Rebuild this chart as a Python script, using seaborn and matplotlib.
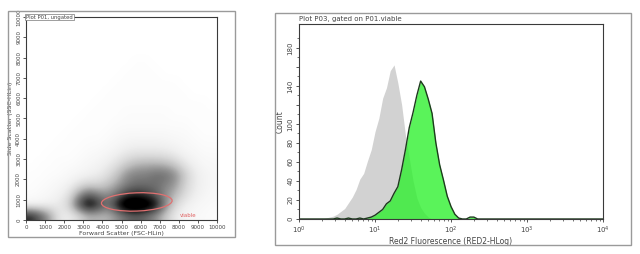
import numpy as np
import pandas as pd
import matplotlib
matplotlib.use("Agg")
import matplotlib.pyplot as plt
from matplotlib.patches import Ellipse, Rectangle
from matplotlib.colors import PowerNorm
import seaborn as sns

# ---------------- data ----------------
# Left panel: estimated event density on a 500x500 grid (FSC columns, SSC rows from bottom)
fsc_centers = [250, 750, 1250, 1750, 2250, 2750, 3250, 3750, 4250, 4750,
               5250, 5750, 6250, 6750, 7250, 7750, 8250, 8750, 9250, 9750]
ssc_centers = fsc_centers
density_rows = [
    [70, 55, 35, 12, 10, 18, 30, 30, 30, 40, 50, 55, 50, 40, 25, 12, 6, 4, 3, 2],
    [5, 7, 9, 12, 22, 60, 85, 70, 50, 75, 100, 100, 95, 80, 45, 20, 10, 6, 4, 3],
    [2, 3, 5, 8, 15, 38, 55, 45, 40, 50, 65, 70, 65, 55, 40, 30, 18, 10, 6, 4],
    [1, 2, 3, 5, 8, 15, 20, 20, 26, 35, 45, 50, 50, 50, 45, 38, 22, 12, 7, 5],
    [1, 1, 2, 2, 4, 6, 8, 10, 16, 26, 40, 45, 45, 50, 50, 42, 25, 12, 7, 5],
    [0, 1, 1, 2, 2, 3, 5, 7, 10, 16, 24, 30, 32, 32, 30, 24, 14, 8, 5, 4],
    [0, 0, 1, 1, 1, 2, 3, 4, 6, 9, 13, 15, 15, 15, 14, 11, 7, 5, 3, 3],
    [0, 0, 0, 1, 1, 1, 2, 2, 3, 5, 7, 8, 8, 8, 7, 6, 4, 3, 2, 2],
    [0, 0, 0, 0, 1, 1, 1, 1, 2, 3, 4, 4, 4, 4, 4, 3, 3, 2, 1, 1],
    [0, 0, 0, 0, 0, 1, 1, 1, 1, 2, 2, 2, 2, 2, 2, 2, 2, 1, 1, 1],
    [0, 0, 0, 0, 0, 0, 1, 1, 1, 1, 2, 2, 2, 2, 2, 1, 1, 1, 1, 1],
    [0, 0, 0, 0, 0, 0, 0, 1, 1, 1, 1, 1, 1, 1, 1, 1, 1, 1, 1, 0],
    [0, 0, 0, 0, 0, 0, 0, 0, 1, 1, 1, 1, 1, 1, 1, 1, 1, 0, 0, 0],
    [0, 0, 0, 0, 0, 0, 0, 0, 0, 1, 1, 1, 1, 1, 1, 1, 0, 0, 0, 0],
    [0, 0, 0, 0, 0, 0, 0, 0, 0, 0, 1, 1, 1, 1, 0, 0, 0, 0, 0, 0],
    [0, 0, 0, 0, 0, 0, 0, 0, 0, 0, 0, 1, 1, 0, 0, 0, 0, 0, 0, 0],
    [0, 0, 0, 0, 0, 0, 0, 0, 0, 0, 0, 0, 0, 0, 0, 0, 0, 0, 0, 0],
    [0, 0, 0, 0, 0, 0, 0, 0, 0, 0, 0, 0, 0, 0, 0, 0, 0, 0, 0, 0],
    [0, 0, 0, 0, 0, 0, 0, 0, 0, 0, 0, 0, 0, 0, 0, 0, 0, 0, 0, 0],
    [0, 0, 0, 0, 0, 0, 0, 0, 0, 0, 0, 0, 0, 0, 0, 0, 0, 0, 0, 0],
]
gate_center = (5800, 890)
gate_size = (3700, 900)
gate_name = "viable"
scatter_ticks = [0, 1000, 2000, 3000, 4000, 5000, 6000, 7000, 8000, 9000, 10000]

# Right panel: histograms (log10 of fluorescence bin centre, counts)
control_log = [0.35, 0.4, 0.45, 0.5, 0.55, 0.6, 0.65, 0.7, 0.75, 0.8, 0.85, 0.9,
               0.95, 1.0, 1.05, 1.1, 1.15, 1.2, 1.25, 1.3, 1.35, 1.4, 1.45, 1.5,
               1.55, 1.6, 1.65, 1.7]
control_count = [1, 2, 3, 5, 8, 11, 17, 23, 31, 42, 48, 61, 73, 92, 106, 127, 138,
                 156, 162, 143, 120, 88, 64, 40, 22, 12, 6, 2]
sample_log = [0.5, 0.65, 0.8, 0.9, 0.95, 1.0, 1.05, 1.1, 1.15, 1.2, 1.25, 1.3, 1.35,
              1.4, 1.45, 1.5, 1.55, 1.6, 1.65, 1.7, 1.75, 1.8, 1.85, 1.9, 1.95,
              2.0, 2.05, 2.1, 2.25, 2.3]
sample_count = [1, 1, 1, 1, 2, 4, 7, 10, 16, 19, 27, 34, 52, 73, 96, 112, 130, 145,
                139, 126, 111, 80, 57, 41, 24, 13, 5, 1, 2, 2]

# ---------------- figure ----------------
sns.set_theme(style="white")
plt.rcParams["font.family"] = ["DejaVu Sans"]
txt = "#444444"
spine = "#3a3a3a"

fig = plt.figure(figsize=(6.4, 2.54), dpi=100)
fig.patch.set_facecolor("white")

# outer frames
fig.patches.append(Rectangle((8 / 640, 1 - 237 / 254), 227 / 640, 226 / 254,
                             transform=fig.transFigure, fill=False,
                             edgecolor="#9a9a9a", linewidth=1.0))
fig.patches.append(Rectangle((275 / 640, 1 - 245 / 254), 356 / 640, 232 / 254,
                             transform=fig.transFigure, fill=False,
                             edgecolor="#9a9a9a", linewidth=1.0))

# ---- left: dot-plot density ----
ax1 = fig.add_axes([26 / 640, 1 - 220 / 254, 191 / 640, 203 / 254])
grid = np.array(density_rows, dtype=float)
ax1.imshow(grid, origin="lower", extent=(0, 10000, 0, 10000), aspect="auto",
           cmap="Greys", interpolation="bicubic",
           norm=PowerNorm(gamma=0.95, vmin=0, vmax=80))
ax1.add_patch(Ellipse(gate_center, gate_size[0], gate_size[1], angle=2,
                      fill=False, edgecolor="#e07070", linewidth=0.9))
ax1.text(8500, 120, gate_name, color="#e06060", fontsize=4, ha="center", va="bottom")
ax1.set_xlim(0, 10000)
ax1.set_ylim(0, 10000)
ax1.set_xticks(scatter_ticks)
ax1.set_yticks(scatter_ticks)
ax1.set_xticklabels([str(t) for t in scatter_ticks], fontsize=4, color=txt)
ax1.set_yticklabels([str(t) for t in scatter_ticks], fontsize=4, color=txt,
                    rotation=90, va="center")
ax1.tick_params(axis="both", length=2, width=0.6, pad=1.5, colors=spine,
                labelcolor=txt, bottom=True, left=True)
ax1.set_xlabel("Forward Scatter (FSC-HLin)", fontsize=4.5, color=txt, labelpad=1)
ax1.set_ylabel("Side Scatter (SSC-HLin)", fontsize=4.5, color=txt, labelpad=2)
for s in ax1.spines.values():
    s.set_color(spine)
    s.set_linewidth(0.8)
ax1.text(0.0, 1.0, "Plot P01, ungated", transform=ax1.transAxes, fontsize=3.8,
         color=txt, ha="left", va="center",
         bbox=dict(boxstyle="square,pad=0.15", facecolor="white",
                   edgecolor="#777777", linewidth=0.5))

# ---- right: histogram overlay ----
ax2 = fig.add_axes([299 / 640, 1 - 219 / 254, 304 / 640, 195 / 254])
ctrl = pd.DataFrame({"x": np.power(10.0, control_log), "n": control_count})
samp = pd.DataFrame({"x": np.power(10.0, sample_log), "n": sample_count})
common = dict(log_scale=True, binwidth=0.05, binrange=(-0.025, 4.025),
              element="poly", stat="count")
sns.histplot(data=ctrl, x="x", weights="n", ax=ax2, fill=True, color="#d2d2d2",
             alpha=1.0, linewidth=0, **common)
sns.histplot(data=samp, x="x", weights="n", ax=ax2, fill=True, color="#2bf02b",
             alpha=0.78, linewidth=0, **common)
sns.histplot(data=samp, x="x", weights="n", ax=ax2, fill=False, color="#1d3a1d",
             linewidth=1.0, **common)
ax2.set_xlim(1, 1e4)
ax2.set_ylim(0, 205)
ax2.set_xticks([1, 10, 100, 1000, 10000])
ax2.set_xticklabels([r"$10^{0}$", r"$10^{1}$", r"$10^{2}$", r"$10^{3}$", r"$10^{4}$"],
                    fontsize=5, color=txt)
ax2.set_yticks([0, 20, 40, 60, 80, 100, 120, 140, 160, 180])
ax2.set_yticklabels(["0", "20", "40", "60", "80", "100", "", "140", "", "180"],
                    fontsize=5, color=txt, rotation=90, va="center")
ax2.set_yticks(np.arange(10, 200, 20), minor=True)
ax2.tick_params(axis="both", which="major", length=2.5, width=0.6, pad=1.5,
                colors=spine, labelcolor=txt, bottom=True, left=True)
ax2.tick_params(axis="both", which="minor", length=1.5, width=0.5,
                colors=spine, bottom=True, left=True)
ax2.set_xlabel("Red2 Fluorescence (RED2-HLog)", fontsize=5.5, color=txt, labelpad=1)
ax2.set_ylabel("Count", fontsize=5.5, color=txt, labelpad=2)
for s in ax2.spines.values():
    s.set_color(spine)
    s.set_linewidth(0.8)
ax2.text(0.0, 1.01, "Plot P03, gated on P01.viable", transform=ax2.transAxes,
         fontsize=5, color=txt, ha="left", va="bottom")

fig.savefig("out.png", dpi=100, facecolor="white")
